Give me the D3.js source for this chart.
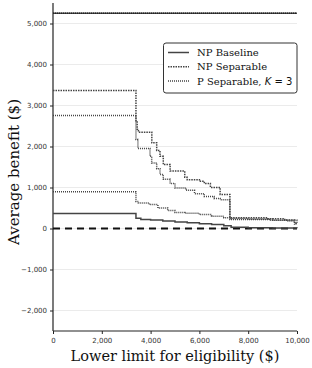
<!DOCTYPE html>
<html><head><meta charset="utf-8">
<script src="https://cdn.jsdelivr.net/npm/d3@7/dist/d3.min.js"></script>
<style>body{margin:0;background:#fff}svg{display:block}</style>
</head><body>
<svg id="c" width="312" height="368"></svg>
<script>
const xTicks = [0, 2000, 4000, 6000, 8000, 10000];
const yTicks = [-2000, -1000, 0, 1000, 2000, 3000, 4000, 5000];

// NP Baseline (solid)
const baselineX = [0, 3400, 3600, 4000, 4500, 5000, 5500, 6000, 6500, 7000, 7300, 8000, 9000, 10000];
const baselineY = [366, 250, 220, 205, 180, 160, 140, 115, 95, 70, 30, 20, 12, 8];

// NP Separable (upper dotted)
const npSepX = [0, 3400, 3450, 3500, 4050, 4250, 4385, 4520, 4800, 5400, 5500, 6000, 6200, 6450, 6850, 7250, 8800, 9500, 9900, 10000];
const npSepY = [3366, 2600, 2420, 2350, 2090, 1900, 1760, 1560, 1400, 1250, 1190, 1150, 1100, 1000, 830, 260, 240, 210, 130, 130];

// P Separable, K = 3 (second dotted)
const pSepX = [0, 3400, 3480, 3975, 4045, 4250, 4385, 4520, 4800, 5000, 5450, 5800, 6200, 6600, 6850, 7250, 8900, 9600, 9900, 10000];
const pSepY = [2756, 2170, 1950, 1760, 1600, 1460, 1320, 1200, 1100, 990, 930, 850, 780, 730, 700, 220, 200, 180, 110, 110];

// P Separable lower series
const pSepLowX = [0, 3400, 3500, 3950, 4300, 4700, 5000, 5400, 6000, 6500, 7000, 7300, 8000, 9000, 10000];
const pSepLowY = [895, 660, 620, 585, 500, 440, 390, 370, 340, 300, 265, 245, 230, 200, 120];

// reference line at top
const topX = [0, 10000];
const topY = [5250, 5250];

const W = 312, H = 368;
const m = {l: 53, r: 15, t: 3, b: 37};
const svg = d3.select('#c');
const x = d3.scaleLinear().domain([0, 10000]).range([m.l, W - m.r]);
const y = d3.scaleLinear().domain([-2500, 5500]).range([H - m.b, m.t]);
const fmt = d3.format(',');

// grid
svg.append('g').selectAll('line').data(yTicks).join('line')
  .attr('x1', m.l).attr('x2', W - m.r)
  .attr('y1', d => y(d)).attr('y2', d => y(d))
  .attr('stroke', '#ebebeb').attr('stroke-width', 1);

// axes
const ax = svg.append('g').attr('transform', `translate(0,${H - m.b})`)
  .call(d3.axisBottom(x).tickValues(xTicks).tickFormat(fmt).tickSize(3).tickPadding(4));
const ay = svg.append('g').attr('transform', `translate(${m.l},0)`)
  .call(d3.axisLeft(y).tickValues(yTicks).tickFormat(fmt).tickSize(3).tickPadding(3));
[ax, ay].forEach(g => {
  g.select('.domain').attr('stroke', '#222').attr('stroke-width', 1.2);
  g.selectAll('.tick line').attr('stroke', '#222');
  g.selectAll('.tick text').attr('font-family', 'DejaVu Sans').attr('font-size', 7).attr('fill', '#333');
});
ay.select('.domain').attr('d', `M0,${y(-2500)}V${y(5500)}`);
ax.select('.domain').attr('d', `M${x(0)},0H${x(10000)}`);

const line = d3.line().x(d => x(d[0])).y(d => y(d[1])).curve(d3.curveStepAfter);
const zip = (a, b) => a.map((v, i) => [v, b[i]]);

const g = svg.append('g');
// zero line
g.append('line').attr('x1', x(0)).attr('x2', x(10000)).attr('y1', y(0)).attr('y2', y(0))
  .attr('stroke', '#111').attr('stroke-width', 1.8).attr('stroke-dasharray', '7,5');

const col = '#444';
g.append('path').attr('d', line(zip(topX, topY))).attr('fill', 'none').attr('stroke', col).attr('stroke-width', 1.3);
g.append('path').attr('d', line(zip(topX, topY))).attr('fill', 'none').attr('stroke', '#222').attr('stroke-width', 1.3).attr('stroke-dasharray', '1,1');
g.append('path').attr('d', line(zip(baselineX, baselineY))).attr('fill', 'none').attr('stroke', col).attr('stroke-width', 1.5);
g.append('path').attr('d', line(zip(npSepX, npSepY))).attr('fill', 'none').attr('stroke', col).attr('stroke-width', 1.5).attr('stroke-dasharray', '1.5,1');
g.append('path').attr('d', line(zip(pSepX, pSepY))).attr('fill', 'none').attr('stroke', col).attr('stroke-width', 1.5).attr('stroke-dasharray', '1,1');
g.append('path').attr('d', line(zip(pSepLowX, pSepLowY))).attr('fill', 'none').attr('stroke', col).attr('stroke-width', 1.5).attr('stroke-dasharray', '1,1');

// axis labels
svg.append('text').attr('x', 175).attr('y', 361).attr('text-anchor', 'middle')
  .attr('font-family', 'DejaVu Serif').attr('font-size', 14.5).attr('fill', '#111')
  .text('Lower limit for eligibility ($)');
svg.append('text').attr('transform', `translate(19,172) rotate(-90)`).attr('text-anchor', 'middle')
  .attr('font-family', 'DejaVu Serif').attr('font-size', 15).attr('fill', '#111')
  .text('Average benefit ($)');

// legend
const lg = svg.append('g');
lg.append('rect').attr('x', 163.5).attr('y', 43).attr('width', 133.5).attr('height', 50).attr('rx', 2.5)
  .attr('fill', '#fff').attr('stroke', '#333').attr('stroke-width', 1);
const items = [
  {label: 'NP Baseline', dash: null},
  {label: 'NP Separable', dash: '1.5,1'},
  {label: 'P Separable, ', dash: '1,1', k: true}
];
items.forEach((it, i) => {
  const yy = 52.5 + i * 14.3;
  const l = lg.append('line').attr('x1', 168).attr('x2', 189).attr('y1', yy).attr('y2', yy)
    .attr('stroke', col).attr('stroke-width', 1.5);
  if (it.dash) l.attr('stroke-dasharray', it.dash);
  const t = lg.append('text').attr('x', 197).attr('y', yy + 3.6)
    .attr('font-family', 'DejaVu Serif').attr('font-size', 10).attr('fill', '#111')
    .text(it.label);
  if (it.k) {
    t.append('tspan').attr('font-style', 'italic').attr('font-family', 'DejaVu Sans').text('K');
    t.append('tspan').attr('font-family', 'DejaVu Sans').text(' = 3');
  }
});
</script>
</body></html>
